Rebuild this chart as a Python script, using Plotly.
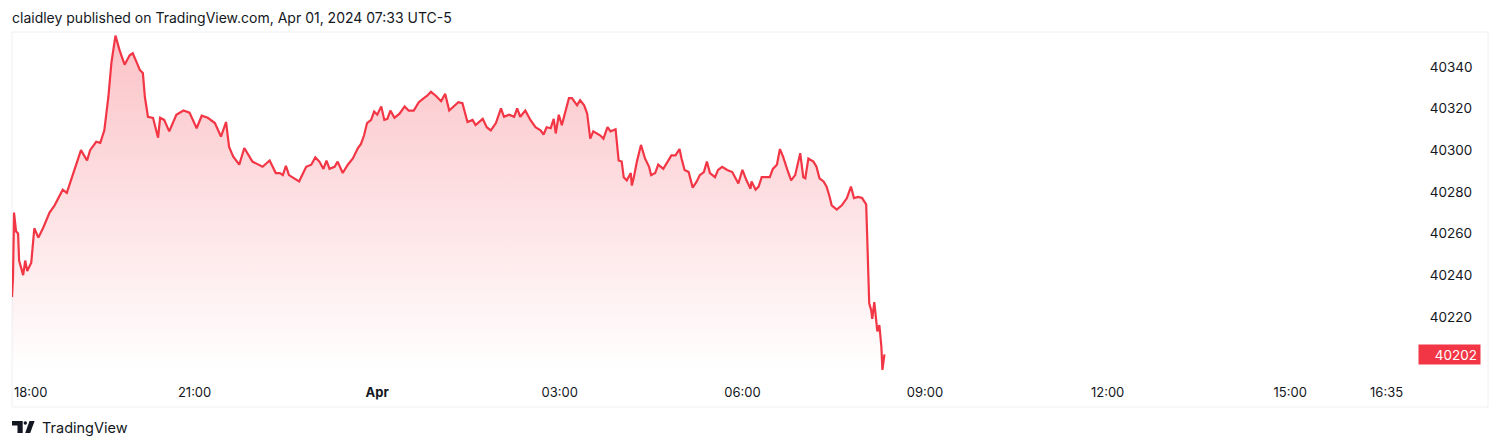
import pandas as pd
import plotly.graph_objects as go

# ---------------- data ----------------
session_start = "2024-03-31 18:00"
# minutes elapsed since session start (18:00, Mar 31)
minutes = [0,1,2,4,6,7,11,13,15,19,22,26,31,37,42,50,54,59,65,68,74,77,83,87,91,95,98,102,106,111,
           116,119,123,126,129,131,134,139,144,146,150,155,162,169,175,182,187,193,200,206,211,214,218,224,229,237,247,254,260,
           264,267,270,273,278,283,285,290,295,299,303,307,310,313,318,321,326,331,336,341,344,347,350,354,357,360,364,367,370,
           373,377,382,387,391,396,401,406,409,413,418,423,427,431,436,440,444,449,454,457,464,468,472,477,482,485,490,495,498,
           501,506,511,516,521,524,527,531,534,536,539,542,546,549,552,557,560,564,567,570,573,577,580,583,587,590,595,598,601,
           603,606,610,611,613,616,620,624,628,630,634,637,642,646,650,654,658,660,663,667,671,675,678,682,685,688,693,696,700,
           705,710,716,720,724,728,729,733,736,739,744,747,750,754,757,760,764,768,772,777,780,782,785,790,793,796,800,803,806,
           808,813,818,823,827,830,834,838,842,843,844,845,847,848,850,853,855,857,858,860]
prices = [40229.5,40239,40270,40261,40260,40247,40240,40247,40242,40246,40262.5,40258,40263,40270,40273.5,40281,40279.5,
          40287,40296.5,40300,40295,40300,40304,40303.5,40309.5,40325.5,40342,40355,40348,40341,40345.5,40346.5,40342,40338.5,
          40337,40325.5,40316,40315.5,40306,40315.5,40314.5,40309,40317,40319,40318,40310.5,40316.5,40315.5,40313,40306.5,
          40313.5,40301.5,40297,40293,40301,40294.5,40292,40295,40289,
          40289,40288,40292.5,40288,40286.5,40285,40287,40292,40293,40296.5,40294.5,40291,40295,40291,40292,40294.5,40289,
          40293,40296,40301,40303,40307,40313,40314.5,40318.5,40317,40321,40314.5,40315,40319,40315.5,40317.5,40321,40319,
          40319,40323,40325,40326,40328,40326,40323.5,40327,40319,40321,40323,40322.5,40313.5,40314.5,40312,40315,40311,
          40309.5,40313,40320,40316,40317,40316,40320,40316,40319,40314.5,40311,40309.5,40307.5,40311,40310.5,40315,40308,
          40317,40312,40319,40325,40325,40321.5,40324,40321.5,40317.5,40305.5,40309,40308,40307,40305.5,40311,40309,40310,
          40295,40294.5,40287,40285.5,40289,40283,40287,40294.5,40302.5,40296,40292,40288,40289,40293,40291,40294.5,40297.5,
          40297.5,40300.5,40296,40290.5,40289.5,40282,40285,40288,40289.5,40294.5,40289,40287,40290.5,40292,40290.5,40289.5,
          40284,40290.5,40285.5,40281.5,40285,40281,40282.5,40287,40287,40287,40291,40293,40300.5,40297,40291,40285.5,40288,
          40298.5,40287,40286.5,40296,40294.5,40292,40286.5,40285,40282.5,40277.5,40273.5,40271.5,40273.5,40277,40282.5,
          40277,40277.5,40277,40274,40258.5,40242.5,40226.5,40223,40219,40227,40213,40216,40205.5,40194.5,40202]
assert len(minutes) == len(prices), (len(minutes), len(prices))

price_ticks = [40220, 40240, 40260, 40280, 40300, 40320, 40340]
time_ticks = ["2024-03-31 21:00", "2024-04-01 00:00", "2024-04-01 03:00", "2024-04-01 06:00",
              "2024-04-01 09:00", "2024-04-01 12:00", "2024-04-01 15:00", "2024-04-01 16:35"]
time_labels = ["21:00", "<b>Apr</b>", "03:00", "06:00", "09:00", "12:00", "15:00", "16:35"]
first_label = "18:00"
last_price_label = "40202"
title_text = "claidley published on TradingView.com, Apr 01, 2024 07:33 UTC-5"
x_range = ["2024-03-31 18:00", "2024-04-01 17:03"]
y_range = [40193.5, 40356.7]

# ---------------- style ----------------
RED = "#F23645"
TXT = "#131722"
FONT = "Inter, Roboto, Liberation Sans, sans-serif"
W, H = 1500, 448
ML, MR, MT, MB = 12, 85, 32, 76
PW, PH = W - ML - MR, H - MT - MB

times = pd.Timestamp(session_start) + pd.to_timedelta(minutes, unit="m")

fig = go.Figure()
fig.add_trace(go.Scatter(
    x=times, y=prices, mode="lines",
    line=dict(color=RED, width=2.2),
    fill="tozeroy",
    fillgradient=dict(type="vertical",
                      colorscale=[[0, "rgba(242,54,69,0.0)"], [1, "rgba(242,54,69,0.30)"]],
                      start=y_range[0], stop=max(prices)),
    hoverinfo="skip", showlegend=False,
))

fig.update_layout(
    width=W, height=H,
    margin=dict(l=ML, r=MR, t=MT, b=MB, pad=0),
    paper_bgcolor="white", plot_bgcolor="white",
    font=dict(family=FONT, size=13, color=TXT),
    title=dict(text=title_text, xref="container", yref="container",
               x=12 / W, xanchor="left", y=1 - 18 / H, yanchor="middle",
               font=dict(family=FONT, size=14, color=TXT)),
    xaxis=dict(type="date", range=x_range, showgrid=False, zeroline=False, showline=False,
               tickvals=time_ticks, ticktext=time_labels, ticks="outside", ticklen=8,
               tickcolor="rgba(0,0,0,0)", tickfont=dict(size=13, color=TXT), fixedrange=True),
    yaxis=dict(side="right", range=y_range, showgrid=False, zeroline=False, showline=False,
               tickvals=price_ticks, ticktext=[str(v) for v in price_ticks], ticks="outside", ticklen=11,
               tickcolor="rgba(0,0,0,0)", tickfont=dict(size=13.5, color=TXT), fixedrange=True),
)

# light chart frame
fig.add_shape(type="rect", xref="paper", yref="paper", layer="below",
              x0=0, x1=(1488 - ML) / PW, y0=-(407 - (H - MB)) / PH, y1=1,
              line=dict(color="#EEF0F4", width=1), fillcolor="rgba(0,0,0,0)")

# first time label, left-aligned at the session start
fig.add_annotation(x=times[0], xref="x", xanchor="left", y=0, yref="paper", yanchor="top",
                   yshift=-10, text=first_label, showarrow=False, font=dict(size=13, color=TXT))

# last price tag
fig.add_annotation(x=1, xref="paper", xanchor="left", xshift=3, y=prices[-1], yref="y",
                   yanchor="middle", text=last_price_label, showarrow=False, align="right",
                   bgcolor=RED, font=dict(size=13.5, color="white"), width=55, height=13, borderpad=3)

# TradingView logo (bottom left)
logo = dict(xref="paper", yref="paper", xsizemode="pixel", ysizemode="pixel", xanchor=0, yanchor=0,
            line=dict(width=0), fillcolor=TXT)
fig.add_shape(type="path", path="M0,-49 L10.7,-49 L10.7,-61 L5.5,-61 L5.5,-53.5 L0,-53.5 Z", **logo)
fig.add_shape(type="circle", x0=11.6, x1=15, y0=-49.3, y1=-52.7, **logo)
fig.add_shape(type="path", path="M17.5,-49 L22.6,-49 L18.2,-61 L13.2,-61 Z", **logo)
fig.add_annotation(x=0, xref="paper", xanchor="left", xshift=28, y=0, yref="paper", yanchor="middle",
                   yshift=-56, text="TradingView", showarrow=False, font=dict(size=14.5, color=TXT))

fig.write_html("out.html", config={"displayModeBar": False},
               post_script="document.body.style.margin='0';")
